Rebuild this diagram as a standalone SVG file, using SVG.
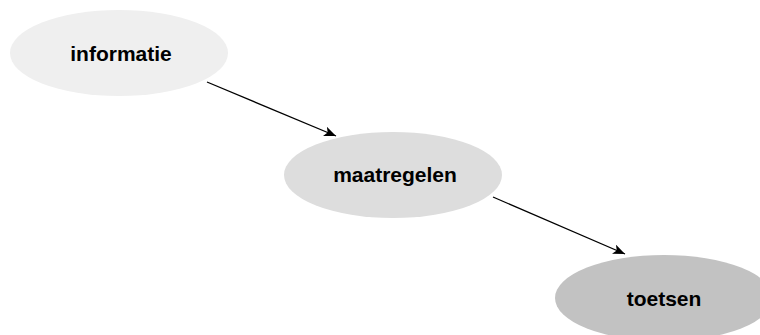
<svg xmlns="http://www.w3.org/2000/svg" width="760" height="335" viewBox="0 0 760 335">
  <style>
    .label { font-family: "Liberation Sans", Arial, sans-serif; font-size: 21px; font-weight: bold; fill: #000; text-anchor: middle; }
    .edge { stroke: #000; stroke-width: 1.3; fill: none; marker-end: url(#arrow); }
  </style>
  <defs>
    <marker id="arrow" viewBox="0 0 12 10" refX="12" refY="5" markerWidth="12" markerHeight="10" markerUnits="userSpaceOnUse" orient="auto">
      <path d="M0,0 L12,5 L0,10 L3,5 Z" fill="#000"/>
    </marker>
  </defs>
  <rect width="760" height="335" fill="#ffffff"/>
  <g id="edges">
    <line class="edge" x1="207" y1="82" x2="336" y2="136"/>
    <line class="edge" x1="493" y1="197" x2="625" y2="254"/>
  </g>
  <g id="informatie">
    <ellipse cx="119" cy="53" rx="109" ry="43" fill="#efefef"/>
    <text class="label" x="121" y="61">informatie</text>
  </g>
  <g id="maatregelen">
    <ellipse cx="393" cy="175" rx="109" ry="43" fill="#dddddd"/>
    <text class="label" x="395" y="182">maatregelen</text>
  </g>
  <g id="toetsen">
    <ellipse cx="664" cy="298" rx="109" ry="43" fill="#c2c2c2"/>
    <text class="label" x="664" y="306">toetsen</text>
  </g>
</svg>
